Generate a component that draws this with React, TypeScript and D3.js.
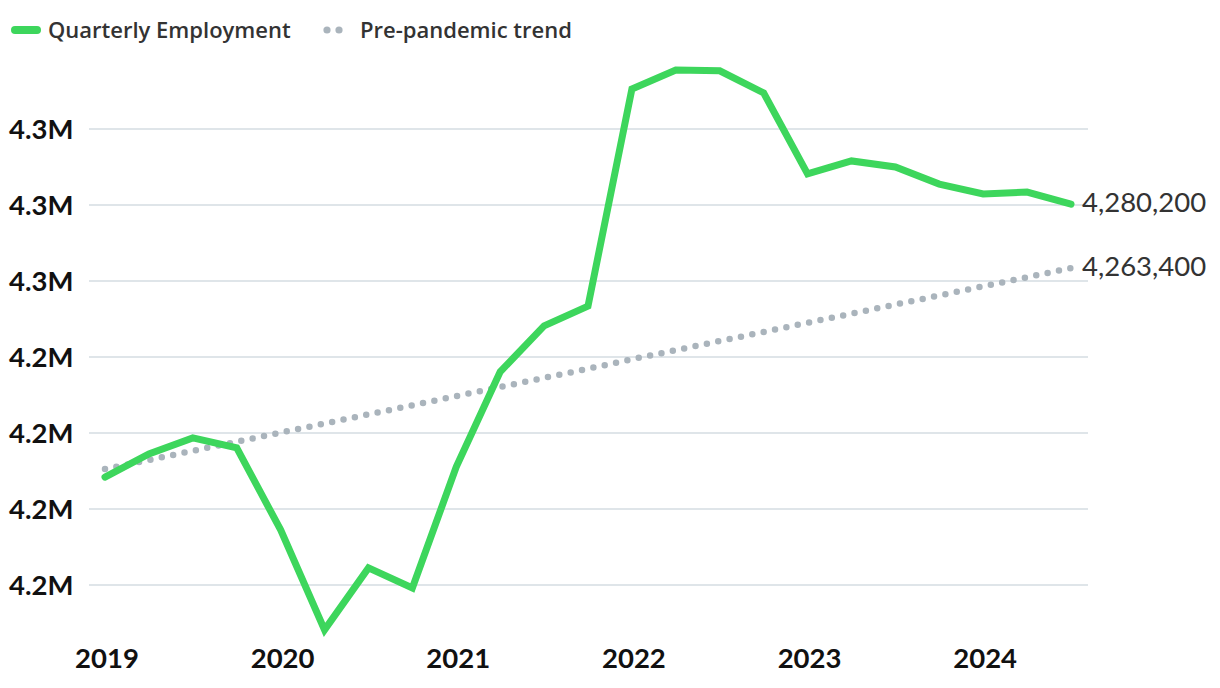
import React from "react";
import * as d3 from "d3";

const quarters = [
  "2019Q1","2019Q2","2019Q3","2019Q4",
  "2020Q1","2020Q2","2020Q3","2020Q4",
  "2021Q1","2021Q2","2021Q3","2021Q4",
  "2022Q1","2022Q2","2022Q3","2022Q4",
  "2023Q1","2023Q2","2023Q3","2023Q4",
  "2024Q1","2024Q2","2024Q3",
];
const employment = [
  4208400, 4214500, 4218700, 4216100,
  4194500, 4168200, 4184500, 4179200,
  4211100, 4236100, 4248200, 4253400,
  4310500, 4315500, 4315300, 4309500,
  4288200, 4291600, 4290000, 4285500,
  4282900, 4283400, 4280200,
];
const trend = [
  4210500, 4212900, 4215300, 4217700,
  4220100, 4222500, 4224900, 4227300,
  4229700, 4232100, 4234500, 4236900,
  4239400, 4241800, 4244200, 4246600,
  4249000, 4251400, 4253800, 4256200,
  4258600, 4261000, 4263400,
];
const yTicks = [4180000, 4200000, 4220000, 4240000, 4260000, 4280000, 4300000];
const years = [2019, 2020, 2021, 2022, 2023, 2024];

const FONT = "Lato, 'Noto Sans', sans-serif";
const LEGEND_FONT = "'Open Sans', 'Noto Sans', sans-serif";

export default function App() {
  const W = 1220, H = 688;
  const x = d3.scaleLinear().domain([0, quarters.length - 1]).range([105, 1071]);
  const y = d3.scaleLinear().domain([4180000, 4300000]).range([585, 129]);
  const line = d3.line<number>().x((_, i) => x(i)).y((d) => y(d));
  const fmt = d3.format(",");
  const tickFmt = (v: number) => (v / 1e6).toFixed(1) + "M";
  const last = employment.length - 1;

  return (
    <svg width={W} height={H} style={{ position: "absolute", left: 0, top: 0, fontFamily: FONT }}>
      <rect width={W} height={H} fill="#fff" />
      {/* legend */}
      <g fontFamily={LEGEND_FONT}>
        <line x1={15} x2={37} y1={30} y2={30} stroke="#3dd65c" strokeWidth={8} strokeLinecap="round" />
        <text x={48} y={38} fontSize={22} fontWeight={600} fill="#333">Quarterly Employment</text>
        <circle cx={327} cy={30} r={3.6} fill="#aab4bc" />
        <circle cx={339} cy={30} r={3.6} fill="#aab4bc" />
        <text x={360} y={38} fontSize={22} fontWeight={600} fill="#333">Pre-pandemic trend</text>
      </g>
      {/* grid + y labels */}
      {yTicks.map((t) => (
        <g key={t}>
          <line x1={89} x2={1088} y1={y(t)} y2={y(t)} stroke="#d5dde2" strokeWidth={1.5} />
          <text x={9} y={y(t) + 10} fontSize={27.5} fontWeight={700} fill="#111">{tickFmt(t)}</text>
        </g>
      ))}
      {/* x labels */}
      {years.map((yr, i) => (
        <text key={yr} x={x(i * 4) + 2} y={668} textAnchor="middle" fontSize={27.5} fontWeight={700} fill="#111">{yr}</text>
      ))}
      {/* trend */}
      <path d={line(trend) || ""} fill="none" stroke="#aab4bc" strokeWidth={6.5} strokeLinecap="round" strokeDasharray="0 11.6" />
      {/* employment */}
      <path d={line(employment) || ""} fill="none" stroke="#3dd65c" strokeWidth={7} strokeLinejoin="miter" strokeLinecap="round" />
      {/* end labels */}
      <text x={1082} y={y(employment[last]) + 8} fontSize={27.5} fill="#333">{fmt(employment[last])}</text>
      <text x={1082} y={y(trend[last]) + 8} fontSize={27.5} fill="#333">{fmt(trend[last])}</text>
    </svg>
  );
}
